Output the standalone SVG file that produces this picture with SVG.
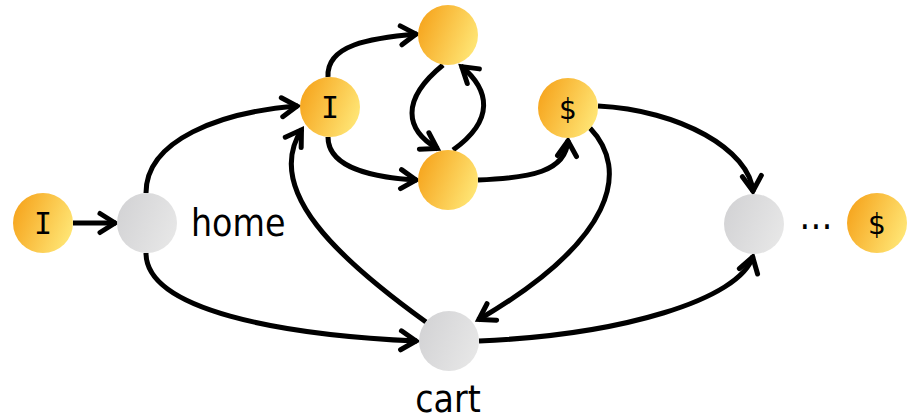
<svg xmlns="http://www.w3.org/2000/svg" width="910" height="420" viewBox="0 0 910 420">
<defs>
<linearGradient id="gOr" x1="0" y1="0.3" x2="1" y2="0.7">
<stop offset="0" stop-color="#F6A51E"/>
<stop offset="1" stop-color="#FFE777"/>
</linearGradient>
<linearGradient id="gGr" x1="0" y1="0.3" x2="1" y2="0.7">
<stop offset="0" stop-color="#D3D3D5"/>
<stop offset="1" stop-color="#E7E7E7"/>
</linearGradient>
<marker id="arr" markerUnits="userSpaceOnUse" markerWidth="40" markerHeight="40" viewBox="-20 -20 40 40" refX="1" refY="0" orient="auto">
<path d="M-15,-9.5 L0,0 L-15,9.5" fill="none" stroke="#000" stroke-width="5" stroke-linecap="round" stroke-linejoin="miter"/>
</marker>
</defs>
<style>
.e{fill:none;stroke:#000;stroke-width:5;marker-end:url(#arr)}
.o{fill:url(#gOr)}
.g{fill:url(#gGr)}
.sym{font-family:"DejaVu Sans Mono","DejaVu Sans",sans-serif;font-size:30px;fill:#000;text-anchor:middle}
.dol{font-family:"DejaVu Sans",sans-serif;font-size:28px;fill:#000;text-anchor:middle}
.lbl{font-family:"DejaVu Sans Condensed","DejaVu Sans",sans-serif;font-stretch:condensed;font-size:37px;fill:#000}
</style>
<rect width="910" height="420" fill="#fff"/>
<g id="connectors">
<path class="e" d="M73,223 L116,223"/>
<path class="e" d="M146,193 C146,140 220,112 298,106"/>
<path class="e" d="M146,253 C146,310 280,335 417,341"/>
<path class="e" d="M426,322 C340,260 262,190 302,129"/>
<path class="e" d="M328,77 C326,45 370,38 417,34"/>
<path class="e" d="M328,137 C328,170 380,178 417,180"/>
<path class="e" d="M443,65 C400,100 405,130 438,149"/>
<path class="e" d="M453,150 C495,120 490,90 461,66"/>
<path class="e" d="M478,180 C530,178 566,172 568,140"/>
<path class="e" d="M598,106 C680,110 750,150 753,192"/>
<path class="e" d="M590,128 C630,170 615,240 478,320"/>
<path class="e" d="M479,341 C620,335 740,300 753,256"/>
</g>
<g id="n-start"><circle class="o" cx="43" cy="223" r="30"/><text class="sym" x="43" y="234">I</text></g>
<g id="n-home"><circle class="g" cx="147" cy="223" r="30"/><text class="lbl" x="191" y="236">home</text></g>
<g id="n-item"><circle class="o" cx="330" cy="107" r="30"/><text class="sym" x="330" y="118">I</text></g>
<g id="n-top"><circle class="o" cx="448" cy="35" r="30"/></g>
<g id="n-mid"><circle class="o" cx="448" cy="180" r="30"/></g>
<g id="n-pay"><circle class="o" cx="568" cy="108" r="30"/><text class="dol" x="568" y="119">$</text></g>
<g id="n-cart"><circle class="g" cx="449" cy="341" r="30"/><text class="lbl" x="448" y="412" text-anchor="middle">cart</text></g>
<g id="n-right"><circle class="g" cx="754" cy="224" r="30"/></g>
<g id="n-dots"><text class="lbl" x="816" y="229" text-anchor="middle">…</text></g>
<g id="n-end"><circle class="o" cx="877" cy="223" r="30"/><text class="dol" x="877" y="234">$</text></g>
</svg>
